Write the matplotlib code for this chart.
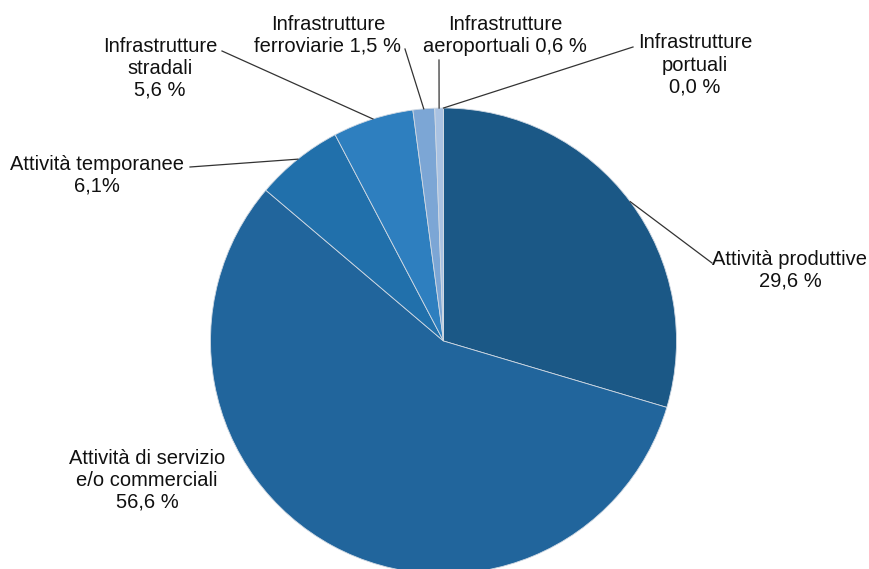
import numpy as np
import matplotlib.pyplot as plt

plt.rcParams['font.family'] = ['Liberation Sans', 'DejaVu Sans']

# data (clockwise from 12 o'clock)
labels = ["Attività produttive\n29,6 %",
          "Attività di servizio\ne/o commerciali\n56,6 %",
          "Attività temporanee\n6,1%",
          "Infrastrutture\nstradali\n5,6 %",
          "Infrastrutture\nferroviarie 1,5 %",
          "Infrastrutture\naeroportuali 0,6 %",
          "Infrastrutture\nportuali\n0,0 %"]
values = [29.6, 56.6, 6.1, 5.6, 1.5, 0.6, 0.0]
colors = ["#1b5886", "#21659c", "#2170ab", "#2e7fbf", "#7ca6d5", "#a9c2e2", "#c8d8ec"]

# label placement in pixels: text centre, leader start
text_pos = [(790, 270), (147, 480), (97, 175), (160, 68), (328, 35), (505, 35), (695, 65)]
lead_pos = [(712, 263), None, (190, 167), (222, 51), (405, 49), (439, 60), (633, 47)]

W, H = 869, 569
cx, cy, r = 443.5, H - 341, 233

fig = plt.figure(figsize=(W / 100, H / 100), dpi=100)
ax = fig.add_axes([0, 0, 1, 1])

wedges, _ = ax.pie(values, colors=colors, startangle=90, counterclock=False,
                   radius=r, center=(cx, cy), frame=True,
                   wedgeprops=dict(edgecolor="#d0d9e3", linewidth=0.6))
ax.set_xlim(0, W)
ax.set_ylim(0, H)
ax.set_aspect('equal')
ax.axis('off')

for w, lab, tp, lp in zip(wedges, labels, text_pos, lead_pos):
    ax.text(tp[0], H - tp[1], lab, ha='center', va='center', fontsize=14.5,
            linespacing=1.2, color='#111111')
    if lp is None:
        continue
    mid = np.radians((w.theta1 + w.theta2) / 2.0)
    ex = cx + r * np.cos(mid)
    ey = cy + r * np.sin(mid)
    ax.plot([lp[0], ex], [H - lp[1], ey], color='#333333', lw=0.9)

fig.savefig("out.png", dpi=100)
